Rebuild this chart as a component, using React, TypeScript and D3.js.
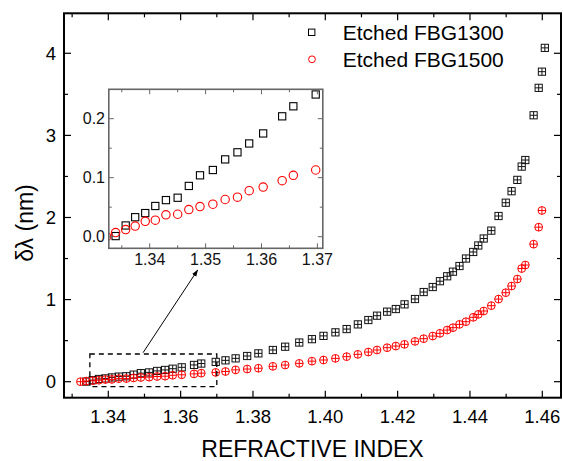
import React from "react";
import * as d3 from "d3";

// ---- Data ----
const riFBG1300 = [
  1.3339, 1.3357, 1.3374, 1.3392, 1.341, 1.3429, 1.345, 1.347, 1.349, 1.3513, 1.3535, 1.3557, 1.3578, 1.3603, 1.3637,
  1.3657, 1.3697, 1.3724, 1.3752, 1.3784, 1.3815, 1.3855, 1.3889, 1.3928, 1.3963, 1.3995, 1.4028, 1.4059, 1.409,
  1.4119, 1.4143, 1.4171, 1.4195, 1.4219, 1.4248, 1.4272, 1.4297, 1.4317, 1.4337, 1.4353, 1.4371, 1.4389, 1.4409,
  1.4423, 1.4438, 1.4459, 1.4479, 1.4499, 1.4515, 1.4531, 1.4543, 1.4553, 1.4576, 1.459, 1.4599, 1.4607,
];
const shiftFBG1300 = [
  0.001, 0.019, 0.033, 0.04, 0.052, 0.062, 0.066, 0.086, 0.104, 0.113, 0.131, 0.143, 0.158, 0.175, 0.204, 0.221,
  0.241, 0.26, 0.284, 0.313, 0.345, 0.386, 0.426, 0.477, 0.518, 0.558, 0.601, 0.641, 0.698, 0.751, 0.804, 0.853,
  0.885, 0.942, 1.007, 1.092, 1.153, 1.224, 1.284, 1.34, 1.409, 1.5, 1.58, 1.659, 1.744, 1.84, 2.018, 2.18, 2.32,
  2.458, 2.62, 2.7, 3.245, 3.579, 3.776, 4.066,
];
const riFBG1500 = [
  1.3323, 1.3339, 1.3357, 1.3374, 1.3392, 1.341, 1.3429, 1.345, 1.347, 1.349, 1.3513, 1.3535, 1.3557, 1.3578, 1.3603,
  1.3637, 1.3657, 1.3697, 1.3724, 1.3752, 1.3784, 1.3815, 1.3855, 1.3889, 1.3928, 1.3963, 1.3995, 1.4028, 1.4059,
  1.409, 1.4119, 1.4143, 1.4171, 1.4195, 1.4219, 1.4248, 1.4272, 1.4297, 1.4317, 1.4337, 1.4353, 1.4371, 1.4389,
  1.4409, 1.4423, 1.4438, 1.4459, 1.4479, 1.4499, 1.4515, 1.4531, 1.4543, 1.4553, 1.4576, 1.459, 1.4599,
];
const shiftFBG1500 = [
  0.0, 0.007, 0.012, 0.018, 0.026, 0.028, 0.037, 0.038, 0.046, 0.051, 0.055, 0.063, 0.067, 0.078, 0.084, 0.095,
  0.104, 0.113, 0.124, 0.144, 0.154, 0.164, 0.187, 0.203, 0.223, 0.25, 0.264, 0.284, 0.305, 0.333, 0.361, 0.386,
  0.414, 0.434, 0.455, 0.491, 0.524, 0.556, 0.589, 0.629, 0.658, 0.698, 0.731, 0.784, 0.82, 0.861, 0.926, 1.006,
  1.084, 1.165, 1.25, 1.378, 1.421, 1.675, 1.882, 2.085,
];

const seriesNames = ["Etched FBG1300", "Etched FBG1500"];
const mainXTicks = [1.34, 1.36, 1.38, 1.4, 1.42, 1.44, 1.46];
const mainYTicks = [0, 1, 2, 3, 4];
const insetXTicks = [1.34, 1.35, 1.36, 1.37];
const insetYTicks = [0.0, 0.1, 0.2];
const xTitle = "REFRACTIVE INDEX";
const yTitle = "δλ (nm)";

// zoom box & arrow (data coordinates of main plot)
const zoomBoxX = [1.3349, 1.37];
const zoomBoxY = [-0.061, 0.337];
const arrowFrom = [1.3496, 0.353];
const arrowTo = [1.3647, 1.36];

const FONT = "'Liberation Sans', Arial, Helvetica, sans-serif";

export default function App() {
  const W = 563;
  const H = 461;
  const M = { left: 64, right: 561, top: 13.3, bottom: 397.7 };
  const x = d3.scaleLinear().domain([1.32775, 1.46517]).range([M.left, M.right]);
  const y = d3.scaleLinear().domain([-0.195, 4.487]).range([M.bottom, M.top]);

  const I = { left: 108.8, right: 322.8, top: 89.3, bottom: 248.3 };
  const ix = d3.scaleLinear().domain([1.33268, 1.37097]).range([I.left, I.right]);
  const iy = d3.scaleLinear().domain([-0.0197, 0.2498]).range([I.bottom, I.top]);

  const black = riFBG1300.map((v, i) => ({ x: v, y: shiftFBG1300[i] }));
  const red = riFBG1500.map((v, i) => ({ x: v, y: shiftFBG1500[i] }));

  const mainXMinor = d3.range(1.33, 1.4651, 0.01).filter((t) => !mainXTicks.some((m) => Math.abs(m - t) < 1e-6));
  const mainYMinor = d3.range(0.5, 4.49, 1);
  const insetXMinor = [1.335, 1.345, 1.355, 1.365];
  const insetYMinor = [0.05, 0.15];

  const MAJ = 7;
  const MIN = 4;
  const IMAJ = 5;
  const IMIN = 3;

  const sq = 3.6; // half side of main squares
  const cr = 3.9; // main circle radius

  return (
    <svg
      width={W}
      height={H}
      style={{ position: "absolute", left: 0, top: 0, background: "#fff" }}
      fontFamily={FONT}
    >
      <defs>
        <clipPath id="insetClip">
          <rect x={I.left} y={I.top} width={I.right - I.left} height={I.bottom - I.top} />
        </clipPath>
        <marker id="arrowHead" viewBox="0 0 10 10" refX="9" refY="5" markerWidth="7" markerHeight="7" orient="auto">
          <path d="M0,1.5 L10,5 L0,8.5 Z" fill="#000" />
        </marker>
      </defs>
      <rect x={0} y={0} width={W} height={H} fill="#fff" />

      {/* main ticks */}
      <g stroke="#000" strokeWidth={1.2}>
        {mainXTicks.map((t) => (
          <g key={"xt" + t}>
            <line x1={x(t)} x2={x(t)} y1={M.bottom} y2={M.bottom - MAJ} />
            <line x1={x(t)} x2={x(t)} y1={M.top} y2={M.top + MAJ} />
          </g>
        ))}
        {mainXMinor.map((t) => (
          <g key={"xm" + t}>
            <line x1={x(t)} x2={x(t)} y1={M.bottom} y2={M.bottom - MIN} />
            <line x1={x(t)} x2={x(t)} y1={M.top} y2={M.top + MIN} />
          </g>
        ))}
        {mainYTicks.map((t) => (
          <g key={"yt" + t}>
            <line x1={M.left} x2={M.left + MAJ} y1={y(t)} y2={y(t)} />
            <line x1={M.right} x2={M.right - MAJ} y1={y(t)} y2={y(t)} />
          </g>
        ))}
        {mainYMinor.map((t) => (
          <g key={"ym" + t}>
            <line x1={M.left} x2={M.left + MIN} y1={y(t)} y2={y(t)} />
            <line x1={M.right} x2={M.right - MIN} y1={y(t)} y2={y(t)} />
          </g>
        ))}
      </g>

      {/* main tick labels */}
      <g fontSize={18.5} fill="#000">
        {mainXTicks.map((t) => (
          <text key={"xl" + t} x={x(t)} y={423} textAnchor="middle">
            {d3.format(".2f")(t)}
          </text>
        ))}
        {mainYTicks.map((t) => (
          <text key={"yl" + t} x={56} y={y(t)} dy="0.36em" textAnchor="end">
            {t}
          </text>
        ))}
      </g>

      {/* axis titles */}
      <text x={(M.left + M.right) / 2} y={457} fontSize={23} textAnchor="middle" fill="#000">
        {xTitle}
      </text>
      <text transform={`translate(33,223) rotate(-90)`} fontSize={23} textAnchor="middle" fill="#000">
        {yTitle}
      </text>

      {/* main data: black squares */}
      <g stroke="#111" strokeWidth={1} fill="none">
        {black.map((d, i) => {
          const cx = x(d.x);
          const cy = y(d.y);
          return (
            <g key={"b" + i}>
              <rect x={cx - sq} y={cy - sq} width={sq * 2} height={sq * 2} />
              <line x1={cx - sq} x2={cx + sq} y1={cy} y2={cy} />
              <line x1={cx} x2={cx} y1={cy - sq} y2={cy + sq} />
            </g>
          );
        })}
      </g>
      {/* main data: red circles */}
      <g stroke="#ff0000" strokeWidth={1} fill="none">
        {red.map((d, i) => {
          const cx = x(d.x);
          const cy = y(d.y);
          return (
            <g key={"r" + i}>
              <circle cx={cx} cy={cy} r={cr} />
              <line x1={cx - cr} x2={cx + cr} y1={cy} y2={cy} />
              <line x1={cx} x2={cx} y1={cy - cr} y2={cy + cr} />
            </g>
          );
        })}
      </g>

      {/* zoom box */}
      <rect
        x={x(zoomBoxX[0])}
        y={y(zoomBoxY[1])}
        width={x(zoomBoxX[1]) - x(zoomBoxX[0])}
        height={y(zoomBoxY[0]) - y(zoomBoxY[1])}
        fill="none"
        stroke="#000"
        strokeWidth={1.3}
        strokeDasharray="5,4"
      />
      {/* arrow */}
      <line
        x1={x(arrowFrom[0])}
        y1={y(arrowFrom[1])}
        x2={x(arrowTo[0])}
        y2={y(arrowTo[1])}
        stroke="#000"
        strokeWidth={1}
        markerEnd="url(#arrowHead)"
      />

      {/* main frame */}
      <rect
        x={M.left}
        y={M.top}
        width={M.right - M.left}
        height={M.bottom - M.top}
        fill="none"
        stroke="#000"
        strokeWidth={2}
      />

      {/* inset */}
      <rect x={I.left} y={I.top} width={I.right - I.left} height={I.bottom - I.top} fill="#fff" />
      <g clipPath="url(#insetClip)">
        <g stroke="#000" strokeWidth={1.1} fill="none">
          {black.map((d, i) => (
            <rect key={"ib" + i} x={ix(d.x) - 3.6} y={iy(d.y) - 3.6} width={7.2} height={7.2} />
          ))}
        </g>
        <g stroke="#ff0000" strokeWidth={1.1} fill="none">
          {red.map((d, i) => (
            <circle key={"ir" + i} cx={ix(d.x)} cy={iy(d.y)} r={4.2} />
          ))}
        </g>
      </g>
      <g stroke="#666" strokeWidth={1}>
        {insetXTicks.map((t) => (
          <g key={"ixt" + t}>
            <line x1={ix(t)} x2={ix(t)} y1={I.bottom} y2={I.bottom - IMAJ} />
            <line x1={ix(t)} x2={ix(t)} y1={I.top} y2={I.top + IMAJ} />
          </g>
        ))}
        {insetXMinor.map((t) => (
          <g key={"ixm" + t}>
            <line x1={ix(t)} x2={ix(t)} y1={I.bottom} y2={I.bottom - IMIN} />
            <line x1={ix(t)} x2={ix(t)} y1={I.top} y2={I.top + IMIN} />
          </g>
        ))}
        {insetYTicks.map((t) => (
          <g key={"iyt" + t}>
            <line x1={I.left} x2={I.left + IMAJ} y1={iy(t)} y2={iy(t)} />
            <line x1={I.right} x2={I.right - IMAJ} y1={iy(t)} y2={iy(t)} />
          </g>
        ))}
        {insetYMinor.map((t) => (
          <g key={"iym" + t}>
            <line x1={I.left} x2={I.left + IMIN} y1={iy(t)} y2={iy(t)} />
            <line x1={I.right} x2={I.right - IMIN} y1={iy(t)} y2={iy(t)} />
          </g>
        ))}
      </g>
      <rect
        x={I.left}
        y={I.top}
        width={I.right - I.left}
        height={I.bottom - I.top}
        fill="none"
        stroke="#666"
        strokeWidth={1.6}
      />
      <g fontSize={16} fill="#111">
        {insetXTicks.map((t) => (
          <text key={"ixl" + t} x={ix(t)} y={265} textAnchor="middle">
            {d3.format(".2f")(t)}
          </text>
        ))}
        {insetYTicks.map((t) => (
          <text key={"iyl" + t} x={105} y={iy(t)} dy="0.36em" textAnchor="end">
            {d3.format(".1f")(t)}
          </text>
        ))}
      </g>

      {/* legend */}
      <rect x={311.7 - 3.2} y={32.3 - 3.2} width={6.4} height={6.4} fill="none" stroke="#000" strokeWidth={1} />
      <circle cx={312} cy={59.3} r={3.4} fill="none" stroke="#ff0000" strokeWidth={1} />
      <g fontSize={21} fill="#000">
        <text x={342.7} y={40}>
          {seriesNames[0]}
        </text>
        <text x={342.7} y={66.7}>
          {seriesNames[1]}
        </text>
      </g>
    </svg>
  );
}
